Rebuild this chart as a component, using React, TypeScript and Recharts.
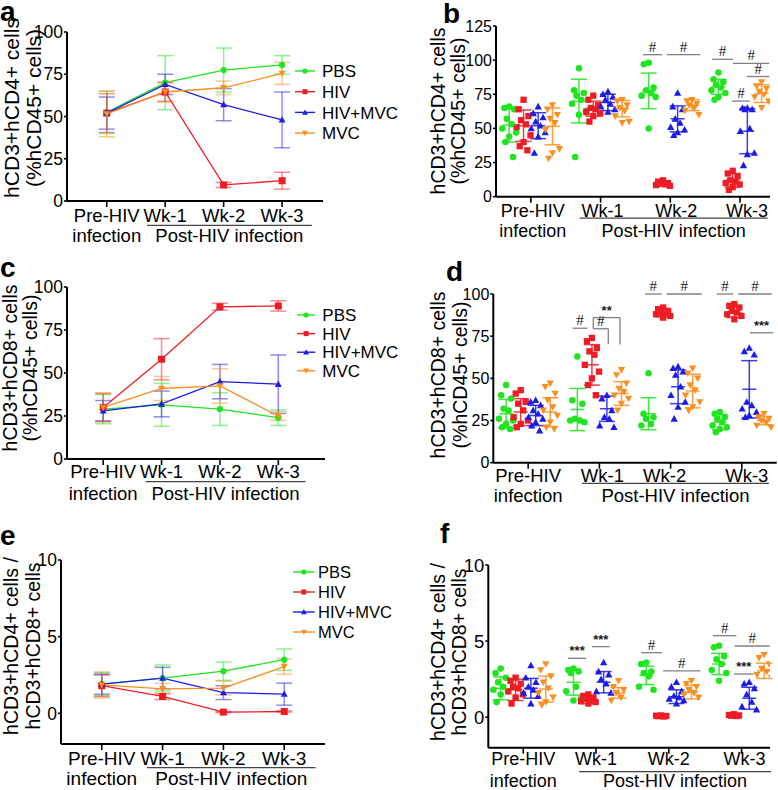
import React from "react";
import {
	ComposedChart,
	ErrorBar,
	Label,
	Legend,
	Line,
	ReferenceLine,
	Scatter,
	ScatterChart,
	XAxis,
	YAxis,
} from "recharts";

const FONT = '"Liberation Sans", Arial, Helvetica, sans-serif';
const SERIF = '"Liberation Serif", "Times New Roman", serif';

const GROUPS = ["PBS", "HIV", "HIV+MVC", "MVC"];
const COLORS = ["#1fe51f", "#ee1c24", "#1c1ce6", "#fb8e1e"];
const TIMES = ["Pre-HIV", "Wk-1", "Wk-2", "Wk-3"];

// mean / SD per group (PBS, HIV, HIV+MVC, MVC) x timepoint
const cd4Mean = [
	[52.5, 70, 77.5, 80.5],
	[52, 64.5, 9.5, 12],
	[52, 69, 57, 48],
	[51.5, 64.5, 67, 75.5],
];
const cd4Sd = [
	[12.5, 16, 13, 5.5],
	[11.5, 5.5, 1.5, 5],
	[9.5, 6, 9.5, 16.5],
	[13.5, 6, 4, 6.5],
];
const cd8Mean = [
	[29, 31.5, 29, 24],
	[30, 58, 88.5, 89],
	[28, 32, 45, 43.5],
	[30, 41, 42.5, 25],
];
const cd8Sd = [
	[8.5, 12.5, 9.5, 4.5],
	[8, 12, 2, 3],
	[6, 7.5, 10, 17],
	[8.5, 7, 10, 2.5],
];
const ratioMean = [
	[1.9, 2.3, 2.75, 3.5],
	[1.8, 1.1, 0.08, 0.12],
	[1.9, 2.3, 1.35, 1.25],
	[1.85, 1.6, 1.65, 3.05],
];
const ratioSd = [
	[0.75, 0.85, 0.6, 0.7],
	[0.7, 0.2, 0.03, 0.04],
	[0.65, 0.7, 0.45, 0.72],
	[0.85, 0.35, 0.45, 0.5],
];

// individual animals, group x timepoint
const cd4Pts = [
	[
		[66, 65, 64, 57, 53, 50, 47, 44, 40, 29],
		[94, 78, 76, 74, 71, 68, 63, 60, 29],
		[98, 97, 80, 78, 76, 74, 73, 50],
		[91, 86, 84, 82, 80, 78, 76, 73, 71],
	],
	[
		[71, 64, 59, 56, 53, 51, 45, 40, 37, 34],
		[74, 71, 67, 65, 64, 62, 61, 59, 55],
		[12, 11, 10, 9.5, 9, 8.5, 8],
		[19, 17, 15, 12, 11, 10, 9, 7, 5],
	],
	[
		[66, 61, 58, 55, 52, 50, 47, 44, 32],
		[77, 75, 73, 71, 68, 66, 64, 62],
		[76, 66, 64, 57, 54, 51, 49, 47, 45],
		[65, 65, 64, 64, 50, 48, 32, 31, 23],
	],
	[
		[67, 64, 60, 57, 54, 49, 35, 32, 28],
		[71, 70, 67, 65, 63, 59, 55, 54],
		[71, 70, 68, 67, 65, 63, 60],
		[84, 81, 79, 77, 75, 73, 70, 65],
	],
];
const cd8Pts = [
	[
		[46, 40, 38, 32, 31, 26, 25, 23, 21, 20],
		[63, 37, 35, 26, 25, 25, 24],
		[53, 29, 27, 26, 23, 22],
		[30, 29, 27, 26, 24, 22, 21, 20, 18],
	],
	[
		[43, 41, 36, 35, 31, 27, 25, 23, 21],
		[74, 72, 68, 66, 64, 58, 54, 50, 46, 40],
		[92, 91, 90, 89, 88, 88, 87, 86],
		[94, 93, 92, 90, 89, 88, 87, 85],
	],
	[
		[37, 36, 34, 31, 29, 27, 26, 24, 22, 19],
		[40, 38, 31, 27, 26, 22, 21],
		[57, 56, 54, 52, 45, 40, 36, 33, 26],
		[68, 66, 64, 36, 34, 32, 30, 28, 27],
	],
	[
		[47, 45, 41, 37, 33, 31, 28, 24, 21, 20],
		[55, 52, 47, 44, 42, 40, 38, 35, 31],
		[56, 53, 50, 46, 43, 40, 36, 33, 31],
		[29, 27, 26, 25, 24, 22, 21],
	],
];
const ratioPts = [
	[
		[3.2, 2.9, 2.6, 2.3, 2.0, 1.8, 1.7, 1.5, 1.0],
		[3.2, 3.1, 3.0, 2.9, 2.0, 1.7, 1.2, 1.1],
		[3.6, 3.5, 3.0, 2.9, 2.7, 2.0, 1.8],
		[4.7, 4.6, 4.0, 3.8, 3.5, 3.1, 2.9, 2.4],
	],
	[
		[2.6, 2.4, 2.2, 2.0, 1.9, 1.7, 1.5, 1.3, 0.9],
		[1.5, 1.4, 1.3, 1.2, 1.1, 1.05, 1.0, 0.9],
		[0.12, 0.1, 0.08, 0.07, 0.05],
		[0.2, 0.15, 0.12, 0.1, 0.08],
	],
	[
		[3.4, 2.6, 2.3, 2.0, 1.8, 1.6, 1.4, 0.9],
		[3.6, 3.0, 2.8, 2.5, 2.2, 1.7, 1.6],
		[2.3, 2.0, 1.7, 1.4, 1.3, 1.2, 1.1, 0.9],
		[2.3, 2.2, 1.9, 1.5, 1.0, 0.7, 0.5],
	],
	[
		[3.5, 3.1, 2.7, 2.3, 1.9, 1.6, 1.3, 1.0, 0.8],
		[2.4, 2.0, 1.8, 1.6, 1.3, 1.1],
		[2.4, 2.2, 2.0, 1.8, 1.6, 1.5, 1.3],
		[4.1, 3.9, 3.5, 3.2, 3.0, 2.8, 2.6],
	],
];

// significance bars (x in timepoint units, y in data units)
const cd4Sig = [
	{ x1: 1.61, x2: 1.88, y1: 104, y2: 104, t: "#" },
	{ x1: 1.95, x2: 2.43, y1: 104, y2: 104, t: "#" },
	{ x1: 2.6, x2: 2.9, y1: 100.6, y2: 100.6, t: "#" },
	{ x1: 2.9, x2: 3.42, y1: 97.7, y2: 97.7, t: "#" },
	{ x1: 3.1, x2: 3.42, y1: 88, y2: 88, t: "#" },
	{ x1: 2.885, x2: 3.14, y1: 70, y2: 70, t: "#" },
];
const cd8Sig = [
	{ x1: 0.625, x2: 0.83, y1: 79.7, y2: 79.7, t: "#" },
	{ x1: 0.914, x2: 1.29, y1: 86, y2: 86, t: "**" },
	{ x1: 1.29, x2: 1.29, y1: 86, y2: 70 },
	{ x1: 0.914, x2: 0.914, y1: 86, y2: 79.4 },
	{ x1: 0.914, x2: 1.125, y1: 79.4, y2: 79.4, t: "#" },
	{ x1: 1.125, x2: 1.125, y1: 79.4, y2: 70.2 },
	{ x1: 1.64, x2: 1.875, y1: 100, y2: 100, t: "#" },
	{ x1: 1.945, x2: 2.437, y1: 100, y2: 100, t: "#" },
	{ x1: 2.648, x2: 2.88, y1: 100, y2: 100, t: "#" },
	{ x1: 2.95, x2: 3.42, y1: 100, y2: 100, t: "#" },
	{ x1: 3.115, x2: 3.44, y1: 77, y2: 77, t: "***" },
];
const ratioSig = [
	{ x1: 0.615, x2: 0.866, y1: 3.87, y2: 3.87, t: "***" },
	{ x1: 0.944, x2: 1.188, y1: 4.64, y2: 4.64, t: "***" },
	{ x1: 1.62, x2: 1.906, y1: 4.24, y2: 4.24, t: "#" },
	{ x1: 1.92, x2: 2.432, y1: 3.04, y2: 3.04, t: "#" },
	{ x1: 2.607, x2: 2.927, y1: 5.36, y2: 5.36, t: "#" },
	{ x1: 2.905, x2: 3.385, y1: 4.68, y2: 4.68, t: "#" },
	{ x1: 2.895, x2: 3.166, y1: 2.84, y2: 2.84, t: "***" },
];

const OFF = [-0.31, -0.105, 0.105, 0.31];
const JIT = [0, -0.07, 0.07, -0.035, 0.035, -0.1, 0.1, 0, -0.055, 0.055];

const TITLE_CD4 = ["hCD3+hCD4+ cells", "(%hCD45+ cells)"];
const TITLE_CD8 = ["hCD3+hCD8+ cells", "(%hCD45+ cells)"];
const TITLE_RATIO = ["hCD3+hCD4+ cells /", "hCD3+hCD8+ cells"];

const PANEL_A = {
	left: 0, top: 0, w: 395, h: 262,
	plot: { l: 67, t: 32, r: 323, b: 201 },
	xDomain: [-0.68, 3.7], yDomain: [0, 100], yTicks: [0, 25, 50, 75, 100],
	tickFont: 17.5, catFont: 18.5, l1: 20.7, ulY: 24.3, l2: 40.7, ul: [-0.313, 2.508],
	labelDx: [0, 0, 0, 0],
	title: { lines: TITLE_CD4, xs: [11, 33], y: 108, size: 21 },
	legend: { x: 295, y: 61, gap: 20.7, lineW: 20, textX: 27, font: 17 },
};
const PANEL_B = {
	left: 390, top: 0, w: 388, h: 262,
	plot: { l: 496, t: 26, r: 770, b: 196.7 },
	xDomain: [-0.5, 3.43], yDomain: [0, 125], yTicks: [0, 25, 50, 75, 100, 125],
	tickFont: 16, catFont: 18, l1: 20, ulY: 21.5, l2: 40, ul: [-0.3, 2.396],
	labelDx: [2, 2, 6, 7],
	title: { lines: TITLE_CD4, xs: [48, 68], y: 111, size: 19.5 },
};
const PANEL_C = {
	left: 0, top: 262, w: 395, h: 263,
	plot: { l: 67, t: 287, r: 325, b: 459 },
	xDomain: [-0.62, 3.8], yDomain: [0, 100], yTicks: [0, 25, 50, 75, 100],
	tickFont: 17.5, catFont: 18.5, l1: 19.3, ulY: 22.7, l2: 41, ul: [-0.274, 2.466],
	labelDx: [0, 0, 0, 0],
	title: { lines: TITLE_CD8, xs: [10, 30], y: 106, size: 19.5 },
	legend: { x: 296.7, y: 43, gap: 18.6, lineW: 18.3, textX: 25.3, font: 17 },
};
const PANEL_D = {
	left: 390, top: 262, w: 388, h: 263,
	plot: { l: 493.3, t: 294, r: 776.7, b: 462.7 },
	xDomain: [-0.49, 3.49], yDomain: [0, 100], yTicks: [0, 25, 50, 75, 100],
	tickFont: 16, catFont: 18.5, l1: 19, ulY: 20.6, l2: 39, ul: [-0.243, 2.38],
	labelDx: [0, 3, -6, 5],
	title: { lines: TITLE_CD8, xs: [48, 70], y: 113, size: 19.5 },
};
const PANEL_E = {
	left: 0, top: 525, w: 395, h: 265,
	plot: { l: 61, t: 560, r: 325, b: 744 },
	xDomain: [-0.67, 3.67], yDomain: [-2, 10], yTicks: [0, 5, 10],
	tickFont: 17.5, catFont: 19, l1: 21, ulY: 23.7, l2: 41, ul: [-0.257, 2.515],
	labelDx: [0, 0, 0, 0],
	title: { lines: TITLE_RATIO, xs: [11, 32.5], y: 121, size: 19.5 },
	legend: { x: 293.3, y: 36.7, gap: 20, lineW: 21.7, textX: 25, font: 16.5 },
};
const PANEL_F = {
	left: 390, top: 525, w: 388, h: 265,
	plot: { l: 488.3, t: 565, r: 770, b: 747.7 },
	xDomain: [-0.48, 3.39], yDomain: [-2, 10], yTicks: [0, 5, 10],
	tickFont: 18.5, catFont: 18, l1: 17.3, ulY: 24, l2: 39, ul: [-0.233, 2.404],
	labelDx: [0, 0, 0, 3],
	title: { lines: TITLE_RATIO, xs: [48, 69], y: 127, size: 19.5 },
};

const LETTERS = [
	{ t: "a", x: 0, y: 21 },
	{ t: "b", x: 443, y: 23 },
	{ t: "c", x: 0, y: 277 },
	{ t: "d", x: 446, y: 281 },
	{ t: "e", x: 0, y: 545 },
	{ t: "f", x: 440, y: 543 },
];

const AXIS = { stroke: "#000", strokeWidth: 2 };
const TICKLINE = { stroke: "#000", strokeWidth: 1.6 };

function frame(cfg: any) {
	return {
		margin: {
			top: cfg.plot.t - cfg.top,
			right: cfg.left + cfg.w - cfg.plot.r,
			bottom: 0,
			left: 0,
		},
		yw: cfg.plot.l - cfg.left,
		xh: cfg.top + cfg.h - cfg.plot.b,
	};
}

function Mark({ cx, cy, g, s }: any) {
	if (cx == null || cy == null) return null;
	const c = COLORS[g];
	if (g === 0) return <circle cx={cx} cy={cy} r={s * 0.52} fill={c} />;
	if (g === 1)
		return <rect x={cx - s / 2} y={cy - s / 2} width={s} height={s} fill={c} />;
	if (g === 2)
		return (
			<path
				d={`M${cx},${cy - s * 0.6}L${cx + s * 0.58},${cy + s * 0.45}L${cx - s * 0.58},${cy + s * 0.45}Z`}
				fill={c}
			/>
		);
	return (
		<path
			d={`M${cx},${cy + s * 0.6}L${cx + s * 0.58},${cy - s * 0.45}L${cx - s * 0.58},${cy - s * 0.45}Z`}
			fill={c}
		/>
	);
}

function CatTick(props: any) {
	const { x, y, payload, cfg } = props;
	const i = Math.round(payload.value);
	const axisY = y - 6;
	const sp = (cfg.plot.r - cfg.plot.l) / (cfg.xDomain[1] - cfg.xDomain[0]);
	const txt = {
		fontSize: cfg.catFont,
		fontFamily: FONT,
		fill: "#000",
		textAnchor: "middle" as const,
	};
	const x1 = x + cfg.ul[0] * sp;
	const x2 = x + cfg.ul[1] * sp;
	return (
		<g>
			<text x={x + cfg.labelDx[i]} y={axisY + cfg.l1} {...txt}>
				{TIMES[i]}
			</text>
			{i === 0 && (
				<text x={x + cfg.labelDx[i]} y={axisY + cfg.l2} {...txt}>
					infection
				</text>
			)}
			{i === 1 && (
				<g>
					<line
						x1={x1}
						x2={x2}
						y1={axisY + cfg.ulY}
						y2={axisY + cfg.ulY}
						stroke="#444"
						strokeWidth={1.3}
					/>
					<text x={(x1 + x2) / 2} y={axisY + cfg.l2} {...txt}>
						Post-HIV infection
					</text>
				</g>
			)}
		</g>
	);
}

function AxisTitle({ cfg }: any) {
	const { lines, xs, y, size } = cfg.title;
	return (
		<g>
			{lines.map((s: string, i: number) => (
				<text
					key={s}
					x={xs[i]}
					y={y}
					transform={`rotate(-90, ${xs[i]}, ${y})`}
					textAnchor="middle"
					dominantBaseline="central"
					fontSize={size}
					fontFamily={FONT}
					fill="#000"
				>
					{s}
				</text>
			))}
		</g>
	);
}

function LegendBox({ lg }: any) {
	return (
		<svg width={110} height={lg.gap * 4 + 10} style={{ overflow: "visible", display: "block" }}>
			{GROUPS.map((name, g) => {
				const y = 10 + g * lg.gap;
				return (
					<g key={name}>
						<line x1={0} x2={lg.lineW} y1={y} y2={y} stroke={COLORS[g]} strokeWidth={1.4} />
						<Mark cx={lg.lineW / 2} cy={y} g={g} s={5} />
						<text
							x={lg.textX}
							y={y + lg.font * 0.36}
							fontSize={lg.font}
							fontFamily={FONT}
							fill="#000"
						>
							{name}
						</text>
					</g>
				);
			})}
		</svg>
	);
}

function xAxisFor(cfg: any, xh: number) {
	return (
		<XAxis
			type="number"
			dataKey="x"
			domain={cfg.xDomain}
			ticks={[0, 1, 2, 3]}
			interval={0}
			allowDataOverflow
			height={xh}
			axisLine={AXIS}
			tickLine={TICKLINE}
			tickSize={6}
			tickMargin={0}
			tick={(p: any) => <CatTick {...p} cfg={cfg} />}
		/>
	);
}

function yAxisFor(cfg: any, yw: number, key?: string) {
	return (
		<YAxis
			type="number"
			dataKey={key}
			domain={cfg.yDomain}
			ticks={cfg.yTicks}
			interval={0}
			allowDataOverflow
			width={yw}
			axisLine={AXIS}
			tickLine={TICKLINE}
			tickSize={3}
			tickMargin={1}
			tick={{ fontSize: cfg.tickFont, fill: "#000", fontFamily: FONT }}
		>
			<Label content={<AxisTitle cfg={cfg} />} />
		</YAxis>
	);
}

function LinePanel({ cfg, mean, sd }: any) {
	const rows = TIMES.map((_, t) => {
		const r: Record<string, number> = { x: t };
		GROUPS.forEach((_, g) => {
			r[`m${g}`] = mean[g][t];
			r[`e${g}`] = sd[g][t];
		});
		return r;
	});
	const f = frame(cfg);
	return (
		<div style={{ position: "absolute", left: cfg.left, top: cfg.top, width: cfg.w, height: cfg.h }}>
			<ComposedChart width={cfg.w} height={cfg.h} data={rows} margin={f.margin}>
				{xAxisFor(cfg, f.xh)}
				{yAxisFor(cfg, f.yw)}
				{GROUPS.map((name, g) => (
					<Line
						key={name}
						dataKey={`m${g}`}
						name={name}
						stroke={COLORS[g]}
						strokeWidth={1.3}
						activeDot={false}
						isAnimationActive={false}
						dot={(p: any) => (
							<Mark key={`${name}-${p.index}`} cx={p.cx} cy={p.cy} g={g} s={g === 1 ? 7 : 6} />
						)}
					>
						<ErrorBar
							dataKey={`e${g}`}
							direction="y"
							width={8}
							stroke={COLORS[g]}
							strokeOpacity={0.5}
							strokeWidth={1.5}
						/>
					</Line>
				))}
				<Legend
					layout="vertical"
					align="center"
					verticalAlign="middle"
					wrapperStyle={{ left: cfg.legend.x, top: cfg.legend.y, width: 110 }}
					content={() => <LegendBox lg={cfg.legend} />}
				/>
			</ComposedChart>
		</div>
	);
}

function DotPanel({ cfg, mean, sd, pts, sig }: any) {
	const f = frame(cfg);
	return (
		<div style={{ position: "absolute", left: cfg.left, top: cfg.top, width: cfg.w, height: cfg.h }}>
			<ScatterChart width={cfg.w} height={cfg.h} margin={f.margin}>
				{xAxisFor(cfg, f.xh)}
				{yAxisFor(cfg, f.yw, "y")}
				{sig.map((s: any, i: number) => (
					<ReferenceLine
						key={i}
						segment={[
							{ x: s.x1, y: s.y1 },
							{ x: s.x2, y: s.y2 },
						]}
						stroke="#808080"
						strokeWidth={1.3}
						ifOverflow="visible"
						label={
							s.t
								? {
										value: s.t,
										position: "top",
										offset: 3,
										fill: "#1a1a1a",
										fontSize: s.t === "#" ? 15 : 13,
										fontFamily: s.t === "#" ? SERIF : FONT,
										fontWeight: s.t === "#" ? "normal" : "bold",
									}
								: undefined
						}
					/>
				))}
				{GROUPS.map((name, g) => {
					const data: { x: number; y: number }[] = [];
					pts[g].forEach((vals: number[], t: number) =>
						vals.forEach((v, k) => data.push({ x: t + OFF[g] + JIT[k % JIT.length], y: v })),
					);
					return (
						<Scatter
							key={name}
							name={name}
							data={data}
							isAnimationActive={false}
							shape={(p: any) => <Mark cx={p.cx} cy={p.cy} g={g} s={6.3} />}
						/>
					);
				})}
				{GROUPS.map((name, g) => (
					<Scatter
						key={`${name}-mean`}
						data={mean[g].map((m: number, t: number) => ({ x: t + OFF[g], y: m, e: sd[g][t] }))}
						isAnimationActive={false}
						shape={(p: any) =>
							p.cx == null ? null : (
								<line
									x1={p.cx - 7}
									x2={p.cx + 7}
									y1={p.cy}
									y2={p.cy}
									stroke={COLORS[g]}
									strokeOpacity={0.85}
									strokeWidth={1.5}
								/>
							)
						}
					>
						<ErrorBar
							dataKey="e"
							direction="y"
							width={8}
							stroke={COLORS[g]}
							strokeOpacity={0.85}
							strokeWidth={1.5}
						/>
					</Scatter>
				))}
			</ScatterChart>
		</div>
	);
}

export default function App() {
	return (
		<div
			style={{
				position: "absolute",
				left: 0,
				top: 0,
				width: 778,
				height: 790,
				background: "#fff",
				overflow: "hidden",
				fontFamily: FONT,
			}}
		>
			<LinePanel cfg={PANEL_A} mean={cd4Mean} sd={cd4Sd} />
			<DotPanel cfg={PANEL_B} mean={cd4Mean} sd={cd4Sd} pts={cd4Pts} sig={cd4Sig} />
			<LinePanel cfg={PANEL_C} mean={cd8Mean} sd={cd8Sd} />
			<DotPanel cfg={PANEL_D} mean={cd8Mean} sd={cd8Sd} pts={cd8Pts} sig={cd8Sig} />
			<LinePanel cfg={PANEL_E} mean={ratioMean} sd={ratioSd} />
			<DotPanel cfg={PANEL_F} mean={ratioMean} sd={ratioSd} pts={ratioPts} sig={ratioSig} />
			<svg
				width={778}
				height={790}
				style={{ position: "absolute", left: 0, top: 0, pointerEvents: "none" }}
			>
				{LETTERS.map((l) => (
					<text key={l.t} x={l.x} y={l.y} fontSize={28} fontWeight="bold" fontFamily={FONT} fill="#000">
						{l.t}
					</text>
				))}
			</svg>
		</div>
	);
}
